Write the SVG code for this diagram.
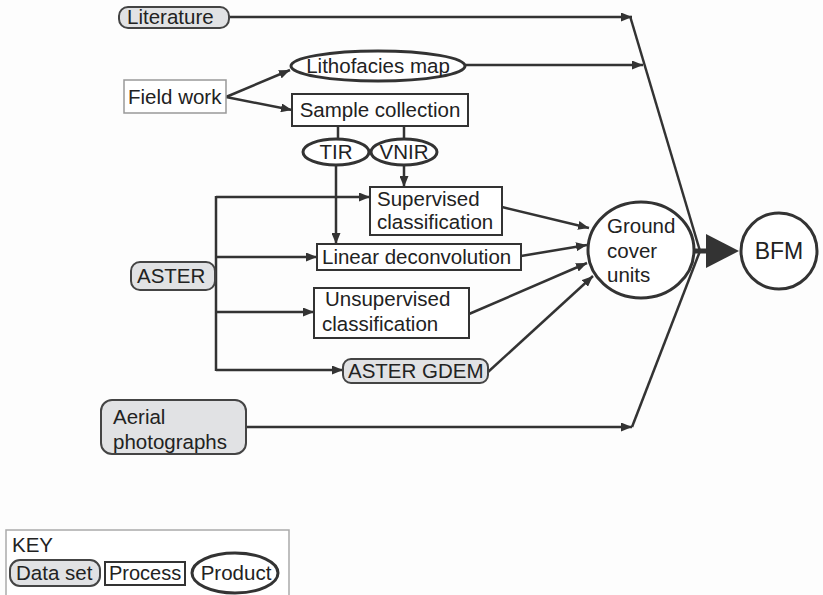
<svg xmlns="http://www.w3.org/2000/svg" width="823" height="595" viewBox="0 0 823 595">
<defs>
<marker id="ah" markerUnits="userSpaceOnUse" markerWidth="11" markerHeight="9" refX="11" refY="4.5" orient="auto">
<path d="M0,0 L11,4.5 L0,9 z" fill="#333"/>
</marker>
<style>
text{font-family:"Liberation Sans",Arial,sans-serif;font-size:20.5px;fill:#222}
.ds{fill:#e1e2e4;stroke:#444;stroke-width:2}
.pr{fill:#fff;stroke:#333;stroke-width:2}
.pd{fill:#fff;stroke:#333;stroke-width:3}
.c{fill:none;stroke:#333;stroke-width:2.5}
.a{marker-end:url(#ah)}
.m{text-anchor:middle}
</style>
</defs>
<rect width="823" height="595" fill="#fdfdfd"/>
<g id="connectors">
<path class="c a" d="M229,17 H632"/>
<path class="c a" d="M465,65 H643"/>
<path class="c" d="M630,16 L700,251"/>
<path class="c" d="M632,427 L700,251"/>
<path class="c a" d="M226,97 L290,70"/>
<path class="c a" d="M226,97 L292,110"/>
<path class="c" d="M338,126 V139"/>
<path class="c" d="M404,126 V139"/>
<path class="c a" d="M336,165 V244"/>
<path class="c a" d="M404,165 V187"/>
<path class="c" d="M216,196 V371"/>
<path class="c a" d="M216,197 H370"/>
<path class="c a" d="M216,257 H317"/>
<path class="c a" d="M216,312 H314"/>
<path class="c a" d="M216,370 H343"/>
<path class="c a" d="M502,207 L589,228"/>
<path class="c a" d="M521,256 L587,245"/>
<path class="c a" d="M469,314 L587,263"/>
<path class="c a" d="M488,372 L593,276"/>
<path class="c a" d="M246,427 H632"/>
<path d="M694,251 H710" stroke="#333" stroke-width="5" fill="none"/>
<polygon points="706,234 739,251 706,268" fill="#333"/>
</g>
<g id="literature"><rect class="ds" x="119" y="7" width="110" height="21" rx="9"/><text x="127" y="24">Literature</text></g>
<g id="lithofacies"><ellipse class="pd" cx="378" cy="66" rx="87" ry="15"/><text class="m" x="378" y="73">Lithofacies map</text></g>
<g id="fieldwork"><rect x="124" y="80" width="102" height="33" fill="#fff" stroke="#999" stroke-width="1.5"/><text x="128" y="104">Field work</text></g>
<g id="sample"><rect class="pr" x="292" y="94" width="176" height="32"/><text class="m" x="380" y="117">Sample collection</text></g>
<g id="tir"><ellipse class="pd" cx="336" cy="152" rx="33" ry="13"/><text class="m" x="336" y="159">TIR</text></g>
<g id="vnir"><ellipse class="pd" cx="404" cy="152" rx="33" ry="13"/><text class="m" x="404" y="159">VNIR</text></g>
<g id="supervised"><rect class="pr" x="370" y="187" width="132" height="48"/><text x="377" y="206">Supervised</text><text x="377" y="229">classification</text></g>
<g id="lineardeconv"><rect class="pr" x="317" y="244" width="204" height="26"/><text x="322" y="264">Linear deconvolution</text></g>
<g id="unsupervised"><rect class="pr" x="314" y="288" width="155" height="50"/><text x="325" y="306">Unsupervised</text><text x="322" y="331">classification</text></g>
<g id="gdem"><rect class="ds" x="343" y="359" width="145" height="24" rx="8"/><text x="348" y="378">ASTER GDEM</text></g>
<g id="aster"><rect class="ds" x="131" y="262" width="84" height="28" rx="9"/><text x="137" y="283">ASTER</text></g>
<g id="aerial"><rect class="ds" x="101" y="400" width="145" height="54" rx="11"/><text x="113" y="424">Aerial</text><text x="113" y="449">photographs</text></g>
<g id="ground"><ellipse class="pd" cx="641" cy="250" rx="53" ry="48"/><text x="607" y="233">Ground</text><text x="607" y="258">cover</text><text x="607" y="282">units</text></g>
<g id="bfm"><ellipse class="pd" cx="779" cy="251" rx="38" ry="38"/><text class="m" x="779" y="259" style="font-size:23px">BFM</text></g>
<g id="key">
<rect x="6" y="530" width="283" height="80" fill="#fff" stroke="#aaa" stroke-width="1.5"/>
<text x="12" y="552">KEY</text>
<rect class="ds" x="10" y="560" width="90" height="26" rx="10"/><text x="16" y="580">Data set</text>
<rect class="pr" x="105" y="562" width="80" height="23"/><text x="109" y="580" style="font-size:20px">Process</text>
<ellipse class="pd" cx="235" cy="573" rx="43" ry="20"/><text class="m" x="236" y="580">Product</text>
</g>
</svg>
